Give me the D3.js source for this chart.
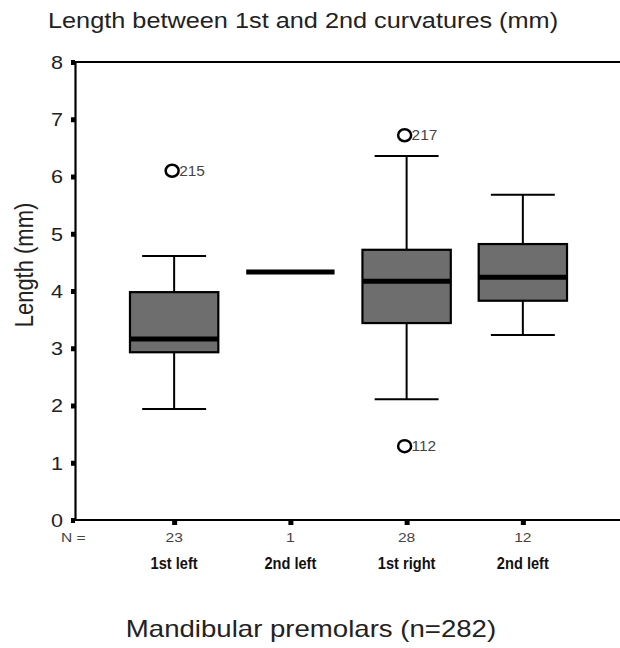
<!DOCTYPE html>
<html>
<head>
<meta charset="utf-8">
<script src="https://cdn.jsdelivr.net/npm/d3@7"></script>
<style>
  body { margin: 0; background: #fff; }
  svg { display: block; }
</style>
</head>
<body>
<div id="chart"></div>
<script>
// values
const categories = ["1st left", "2nd left", "1st right", "2nd left"]
const counts = [23, 1, 28, 12]
const whiskerLow = [1.94, 4.33, 2.11, 3.23]
const q1 = [2.93, 4.33, 3.44, 3.83]
const medians = [3.16, 4.33, 4.17, 4.24]
const q3 = [3.98, 4.33, 4.72, 4.82]
const whiskerHigh = [4.61, 4.33, 6.36, 5.68]
const outliers = [
    { cat: 0, value: 6.1, label: "215" },
    { cat: 2, value: 6.72, label: "217" },
    { cat: 2, value: 1.29, label: "112" }
]
const yTicks = [0, 1, 2, 3, 4, 5, 6, 7, 8]

const width = 620, height = 648
const margin = { top: 62, right: 0, bottom: 128, left: 75 }
// the original picture is stretched sideways, so text is too
const STRETCH = 1.2

const svg = d3.select("#chart").append("svg")
    .attr("width", width)
    .attr("height", height)
    .style("font-family", "Arial, 'Liberation Sans', sans-serif")

const x = d3.scalePoint()
    .domain(d3.range(categories.length))
    .range([margin.left, width + 2])
    .padding(0.853)

const y = d3.scaleLinear()
    .domain([0, 8])
    .range([height - margin.bottom, margin.top])

const step = x.step()
const boxW = step * 0.76
const capW = step * 0.55

// helper: text placed at (px, py), stretched horizontally
function wideText(sel, px, py, sx, rot) {
    return sel.attr("transform", "translate(" + px + "," + py + ")" + (rot ? " rotate(" + rot + ")" : "") + " scale(" + (rot ? "1," + sx : sx + ",1") + ")")
}

// top frame line
svg.append("line")
    .attr("x1", margin.left).attr("x2", width)
    .attr("y1", y(8)).attr("y2", y(8))
    .attr("stroke", "#000").attr("stroke-width", 2)

// y axis
const yAxis = svg.append("g")
    .attr("transform", "translate(" + margin.left + ",0)")
    .call(d3.axisLeft(y).tickValues(yTicks).tickSize(0).tickPadding(12))
yAxis.select(".domain").attr("stroke-width", 2.2)
yAxis.selectAll("text")
    .attr("font-size", 18)
    .attr("fill", "#222")
    .attr("font-family", "Arial, 'Liberation Sans', sans-serif")
    .attr("x", 0)
    .attr("dy", "0.36em")
    .attr("transform", "translate(-12,0) scale(" + STRETCH + ",1)")
yAxis.selectAll(".tick").append("rect")
    .attr("x", -4).attr("y", -2.5).attr("width", 4).attr("height", 5)
    .attr("fill", "#000")

// x axis
const xAxis = svg.append("g")
    .attr("transform", "translate(0," + y(0) + ")")
    .call(d3.axisBottom(x).tickSize(0).tickFormat(""))
xAxis.select(".domain")
    .attr("d", "M" + margin.left + ",0H" + width)
    .attr("stroke-width", 2.2)
xAxis.selectAll(".tick").append("rect")
    .attr("x", -2.5).attr("y", 0).attr("width", 5).attr("height", 5)
    .attr("fill", "#000")

// N = counts
wideText(svg.append("text"), 61, 542, STRETCH)
    .attr("font-size", 13).attr("fill", "#444")
    .text("N =")
svg.selectAll(".count")
    .data(counts)
    .enter().append("text")
    .attr("class", "count")
    .each(function (d, i) { wideText(d3.select(this), x(i), 542, STRETCH) })
    .attr("text-anchor", "middle")
    .attr("font-size", 13).attr("fill", "#444")
    .text(d => d)

// category labels (bold, condensed)
svg.selectAll(".cat")
    .data(categories)
    .enter().append("text")
    .attr("class", "cat")
    .each(function (d, i) { wideText(d3.select(this), x(i), 569, 0.86) })
    .attr("text-anchor", "middle")
    .attr("font-size", 17)
    .attr("font-weight", "bold")
    .attr("fill", "#111")
    .text(d => d)

// boxes
const boxes = svg.selectAll(".box")
    .data(categories.map((c, i) => i))
    .enter().append("g")
    .attr("class", "box")

boxes.each(function (i) {
    const g = d3.select(this)
    const cx = x(i)
    if (q3[i] - q1[i] > 0) {
        // whiskers
        g.append("line")
            .attr("x1", cx).attr("x2", cx)
            .attr("y1", y(q3[i])).attr("y2", y(whiskerHigh[i]))
            .attr("stroke", "#000").attr("stroke-width", 2)
        g.append("line")
            .attr("x1", cx).attr("x2", cx)
            .attr("y1", y(q1[i])).attr("y2", y(whiskerLow[i]))
            .attr("stroke", "#000").attr("stroke-width", 2)
        g.append("line")
            .attr("x1", cx - capW / 2).attr("x2", cx + capW / 2)
            .attr("y1", y(whiskerHigh[i])).attr("y2", y(whiskerHigh[i]))
            .attr("stroke", "#000").attr("stroke-width", 2)
        g.append("line")
            .attr("x1", cx - capW / 2).attr("x2", cx + capW / 2)
            .attr("y1", y(whiskerLow[i])).attr("y2", y(whiskerLow[i]))
            .attr("stroke", "#000").attr("stroke-width", 2)
        g.append("rect")
            .attr("x", cx - boxW / 2)
            .attr("y", y(q3[i]))
            .attr("width", boxW)
            .attr("height", y(q1[i]) - y(q3[i]))
            .attr("fill", "#6e6e6e")
            .attr("stroke", "#000")
            .attr("stroke-width", 2.2)
    }
    // median
    g.append("line")
        .attr("x1", cx - boxW / 2).attr("x2", cx + boxW / 2)
        .attr("y1", y(medians[i])).attr("y2", y(medians[i]))
        .attr("stroke", "#000").attr("stroke-width", 5)
})

// outliers
const out = svg.selectAll(".outlier")
    .data(outliers)
    .enter().append("g")
    .attr("class", "outlier")
out.append("ellipse")
    .attr("cx", d => x(d.cat) - 2)
    .attr("cy", d => y(d.value))
    .attr("rx", 6.5)
    .attr("ry", 6)
    .attr("fill", "none")
    .attr("stroke", "#000")
    .attr("stroke-width", 2.5)
out.append("text")
    .each(function (d) { wideText(d3.select(this), x(d.cat) + 5, y(d.value) + 5, 1.1) })
    .attr("font-size", 14)
    .attr("fill", "#444")
    .text(d => d.label)

// titles
wideText(svg.append("text"), 48, 28, 1.15)
    .attr("font-size", 22)
    .attr("fill", "#222")
    .text("Length between 1st and 2nd curvatures (mm)")

wideText(svg.append("text"), 33, 265, STRETCH, -90)
    .attr("text-anchor", "middle")
    .attr("font-size", 22)
    .attr("fill", "#222")
    .text("Length (mm)")

wideText(svg.append("text"), 311, 637, STRETCH)
    .attr("text-anchor", "middle")
    .attr("font-size", 23)
    .attr("fill", "#222")
    .text("Mandibular premolars (n=282)")
</script>
</body>
</html>
